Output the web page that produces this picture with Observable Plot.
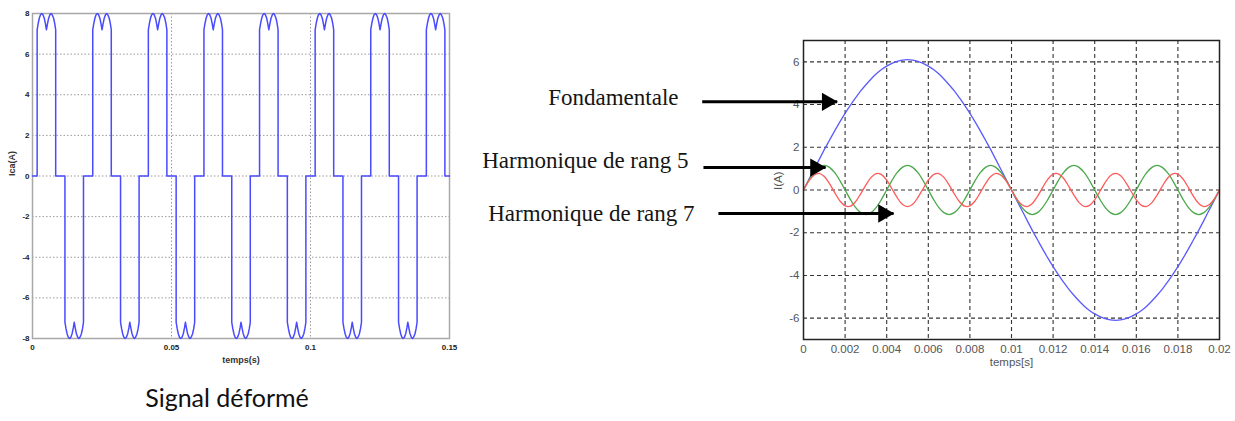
<!DOCTYPE html>
<html><head><meta charset="utf-8">
<script src="https://cdn.jsdelivr.net/npm/d3@7"></script>
<script src="https://cdn.jsdelivr.net/npm/@observablehq/plot@0.6"></script>
<style>
html,body{margin:0;padding:0;background:#fff;}
#page{position:relative;width:1235px;height:421px;overflow:hidden;background:#fff;}
#left{position:absolute;left:0;top:0;}
#right{position:absolute;left:470px;top:0;}
svg{overflow:visible;}
</style></head><body>
<div id="page"><div id="left"></div><div id="right"></div></div>
<script>
// ---------- Left chart: distorted signal Ica(A) ----------
const leftXTicks = [0, 0.05, 0.1, 0.15];
const leftYTicks = [8, 6, 4, 2, 0, -2, -4, -6, -8];
const leftXGrid = [0.05, 0.1];
const leftYGrid = [6, 4, 2, 0, -2, -4, -6];
// one conduction pulse (offset in ms from its start, level in A)
const pulseOffsetsMs = [0, 0.4, 0.8, 1.2, 1.67, 2.1, 2.6, 3.0, 3.33, 3.7, 4.1, 4.6, 5.0, 5.4, 5.9, 6.3, 6.67];
const pulseLevels    = [7.2, 7.53, 7.78, 7.94, 8.0, 7.94, 7.75, 7.48, 7.2, 7.48, 7.75, 7.94, 8.0, 7.94, 7.78, 7.53, 7.2];
const positivePulseStarts = [0.00167, 0.02167, 0.04167, 0.06167, 0.08167, 0.10167, 0.12167, 0.14167];
const negativePulseStarts = [0.01167, 0.03167, 0.05167, 0.07167, 0.09167, 0.11167, 0.13167];
const leftEnd = 0.15;
const leftCaption = "Signal déformé";

const pulses = positivePulseStarts.map(s => ({s, sign: 1}))
  .concat(negativePulseStarts.map(s => ({s, sign: -1})))
  .sort((a, b) => a.s - b.s);
const leftPts = [{t: 0, v: 0}];
for (const p of pulses) {
  leftPts.push({t: p.s, v: 0});
  pulseOffsetsMs.forEach((o, i) => leftPts.push({t: p.s + o / 1000, v: p.sign * pulseLevels[i]}));
  leftPts.push({t: p.s + pulseOffsetsMs[pulseOffsetsMs.length - 1] / 1000, v: 0});
}
leftPts.push({t: leftEnd, v: 0});

const fmt = d => String(+(+d).toFixed(4));

const left = Plot.plot({
  width: 460, height: 421,
  marginLeft: 32, marginRight: 11, marginTop: 13, marginBottom: 83,
  x: {domain: [0, 0.15]},
  y: {domain: [-8, 8]},
  style: {fontFamily: "Liberation Sans, Arial, sans-serif", background: "transparent", color: "#222"},
  marks: [
    Plot.gridY(leftYGrid, {stroke: "#9a9a9a", strokeOpacity: 1, strokeDasharray: "1.5,2"}),
    Plot.gridX(leftXGrid, {stroke: "#9a9a9a", strokeOpacity: 1, strokeDasharray: "1.5,2"}),
    Plot.frame({stroke: "#a8a8a8", strokeWidth: 1.5}),
    Plot.line(leftPts, {x: "t", y: "v", stroke: "#4a4aff", strokeWidth: 1.5}),
    Plot.axisY(leftYTicks, {tickSize: 0, tickPadding: 3, fontSize: 8, fontWeight: "bold", tickFormat: fmt, label: null}),
    Plot.axisX(leftXTicks, {tickSize: 0, tickPadding: 6, fontSize: 8, fontWeight: "bold", tickFormat: fmt, label: null}),
    Plot.text(["temps(s)"], {frameAnchor: "bottom", dy: 24, text: d => d, fontSize: 9, fontWeight: "bold", fill: "#333"}),
    Plot.text(["Ica(A)"], {frameAnchor: "left", dx: -20, rotate: -90, text: d => d, fontSize: 9, fontWeight: "bold", fill: "#333"}),
    Plot.text([leftCaption], {frameAnchor: "bottom", dy: 68, dx: -14, text: d => d, fontSize: 25, fontFamily: "Lato, 'Open Sans', sans-serif", fill: "#111"})
  ]
});
document.getElementById("left").appendChild(left);

// ---------- Right chart: fundamental and harmonics I(A) ----------
const rightXTicks = [0, 0.002, 0.004, 0.006, 0.008, 0.01, 0.012, 0.014, 0.016, 0.018, 0.02];
const rightYTicks = [-6, -4, -2, 0, 2, 4, 6];
const rightXGrid = [0.002, 0.004, 0.006, 0.008, 0.01, 0.012, 0.014, 0.016, 0.018];
const rightYGrid = [-6, -4, -2, 0, 2, 4, 6];

const tMs = [0,0.25,0.5,0.75,1,1.25,1.5,1.75,2,2.25,2.5,2.75,3,3.25,3.5,3.75,4,4.25,4.5,4.75,5,5.25,5.5,5.75,6,6.25,6.5,6.75,7,7.25,7.5,7.75,8,8.25,8.5,8.75,9,9.25,9.5,9.75,10,10.25,10.5,10.75,11,11.25,11.5,11.75,12,12.25,12.5,12.75,13,13.25,13.5,13.75,14,14.25,14.5,14.75,15,15.25,15.5,15.75,16,16.25,16.5,16.75,17,17.25,17.5,17.75,18,18.25,18.5,18.75,19,19.25,19.5,19.75,20];
const fundamental = [0,0.48,0.95,1.42,1.89,2.33,2.77,3.19,3.59,3.96,4.31,4.64,4.93,5.20,5.44,5.64,5.80,5.93,6.02,6.08,6.10,6.08,6.02,5.93,5.80,5.64,5.44,5.20,4.93,4.64,4.31,3.96,3.59,3.19,2.77,2.33,1.89,1.42,0.95,0.48,0,
  -0.48,-0.95,-1.42,-1.89,-2.33,-2.77,-3.19,-3.59,-3.96,-4.31,-4.64,-4.93,-5.20,-5.44,-5.64,-5.80,-5.93,-6.02,-6.08,-6.10,-6.08,-6.02,-5.93,-5.80,-5.64,-5.44,-5.20,-4.93,-4.64,-4.31,-3.96,-3.59,-3.19,-2.77,-2.33,-1.89,-1.42,-0.95,-0.48,0];
const harmonic5 = [0,0.44,0.81,1.06,1.15,1.06,0.81,0.44,0,-0.44,-0.81,-1.06,-1.15,-1.06,-0.81,-0.44,
  0,0.44,0.81,1.06,1.15,1.06,0.81,0.44,0,-0.44,-0.81,-1.06,-1.15,-1.06,-0.81,-0.44,
  0,0.44,0.81,1.06,1.15,1.06,0.81,0.44,0,-0.44,-0.81,-1.06,-1.15,-1.06,-0.81,-0.44,
  0,0.44,0.81,1.06,1.15,1.06,0.81,0.44,0,-0.44,-0.81,-1.06,-1.15,-1.06,-0.81,-0.44,
  0,0.44,0.81,1.06,1.15,1.06,0.81,0.44,0,-0.44,-0.81,-1.06,-1.15,-1.06,-0.81,-0.44,0];
const harmonic7 = [0,0.41,0.69,0.78,0.63,0.30,-0.12,-0.51,-0.74,-0.76,-0.55,-0.18,0.24,0.59,0.77,0.72,0.46,0.06,-0.35,-0.67,-0.78,-0.67,-0.35,0.06,0.46,0.72,0.77,0.59,0.24,-0.18,-0.55,-0.76,-0.74,-0.51,-0.12,0.30,0.63,0.78,0.69,0.41,0,
  -0.41,-0.69,-0.78,-0.63,-0.30,0.12,0.51,0.74,0.76,0.55,0.18,-0.24,-0.59,-0.77,-0.72,-0.46,-0.06,0.35,0.67,0.78,0.67,0.35,-0.06,-0.46,-0.72,-0.77,-0.59,-0.24,0.18,0.55,0.76,0.74,0.51,0.12,-0.30,-0.63,-0.78,-0.69,-0.41,0];

const seriesNames = ["Fondamentale", "Harmonique de rang 5", "Harmonique de rang 7"];
const seriesColors = ["#5a5aff", "#4aa84a", "#ff5a5a"];
const seriesValues = [fundamental, harmonic5, harmonic7];

// annotations (labels with arrows), positioned in data units
const annotLabels = ["Fondamentale", "Harmonique de rang 5", "Harmonique de rang 7"];
const annotTextX = [-0.00601, -0.00553, -0.00524];
const annotTextY = [4.32, 1.36, -1.12];
const arrowStartX = [-0.00487, -0.00481, -0.00409];
const arrowEndX = [0.00162, 0.00106, 0.00433];
const arrowY = [4.13, 1.05, -1.10];

const rightPts = [];
seriesValues.forEach((vals, s) => {
  const n = Math.min(vals.length, tMs.length);
  for (let i = 0; i < n; i++) rightPts.push({series: seriesNames[s], t: tMs[i] / 1000, v: vals[i]});
});
const annots = annotLabels.map((label, i) => ({label, tx: annotTextX[i], ty: annotTextY[i], x1: arrowStartX[i], x2: arrowEndX[i], y: arrowY[i]}));

const right = Plot.plot({
  width: 765, height: 380,
  marginLeft: 333, marginRight: 16, marginTop: 40, marginBottom: 41,
  x: {domain: [0, 0.02]},
  y: {domain: [-7, 7]},
  color: {domain: seriesNames, range: seriesColors},
  style: {fontFamily: "Liberation Sans, Arial, sans-serif", background: "transparent", color: "#444"},
  marks: [
    Plot.gridX(rightXGrid, {stroke: "#111", strokeOpacity: 0.85, strokeDasharray: "4,3", strokeWidth: 1.1}),
    Plot.gridY(rightYGrid, {stroke: "#111", strokeOpacity: 0.85, strokeDasharray: "4,3", strokeWidth: 1.1}),
    Plot.line(rightPts, {x: "t", y: "v", z: "series", stroke: "series", strokeWidth: 1.3, curve: "catmull-rom"}),
    Plot.frame({stroke: "#222", strokeWidth: 1.5}),
    Plot.axisX(rightXTicks, {tickSize: 0, tickPadding: 5, fontSize: 11.5, fill: "#555", tickFormat: fmt, label: null}),
    Plot.axisY(rightYTicks, {tickSize: 0, tickPadding: 4, fontSize: 11.5, fill: "#555", tickFormat: fmt, label: null}),
    Plot.text(["temps[s]"], {frameAnchor: "bottom", dy: 26, text: d => d, fontSize: 11.5, fill: "#555"}),
    Plot.text(["I(A)"], {frameAnchor: "left", dx: -25, rotate: -90, text: d => d, fontSize: 11.5, fill: "#555"}),
    Plot.text(annots, {x: "tx", y: "ty", text: "label", textAnchor: "end", fontFamily: "Liberation Serif, 'Times New Roman', serif", fontSize: 23, fill: "#151515"}),
    Plot.link(annots, {x1: "x1", x2: "x2", y1: "y", y2: "y", stroke: "#000", strokeWidth: 3}),
    Plot.dot(annots, {x: "x2", y: "y", symbol: "triangle", r: 6.8, rotate: 90, fill: "#000", stroke: "none", dx: -10})
  ]
});
document.getElementById("right").appendChild(right);
</script>
</body></html>
